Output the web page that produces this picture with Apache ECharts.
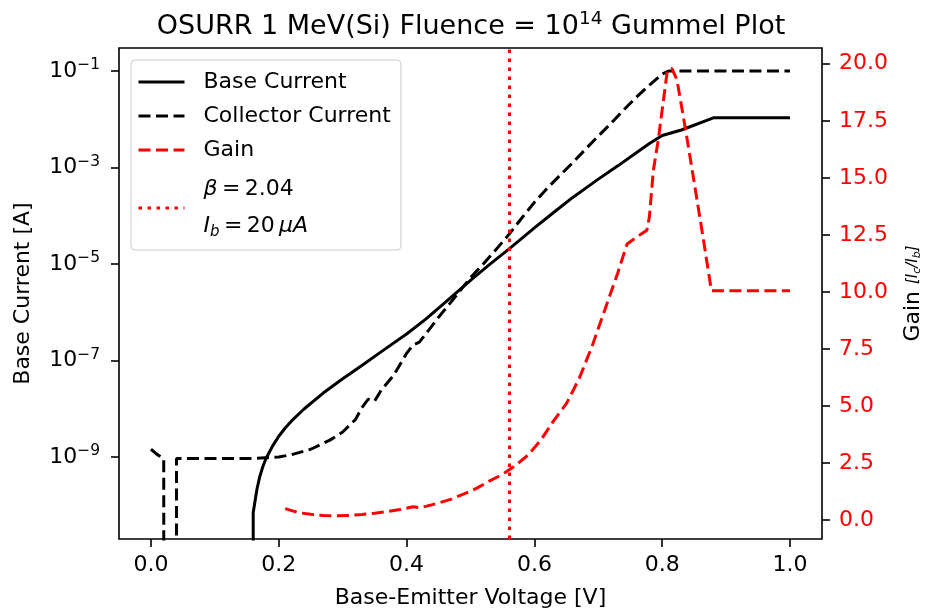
<!DOCTYPE html>
<html><head><meta charset="utf-8">
<script src="https://cdn.jsdelivr.net/npm/echarts@6/dist/echarts.min.js"></script>
<style>html,body{margin:0;padding:0;background:#fff}#c{width:942px;height:615px}</style>
</head><body><div id="c"></div>
<script>
// ---------- data ----------
// Base current [A]; 0 = measured value not positive (clipped like matplotlib)
const vbeBase = [0, 0.15, 0.16, 0.163, 0.166, 0.17, 0.175, 0.18, 0.19, 0.20, 0.21, 0.22, 0.24, 0.27, 0.30, 0.33, 0.36, 0.40, 0.43, 0.46, 0.50, 0.53, 0.56, 0.60, 0.63, 0.66, 0.70, 0.73, 0.76, 0.78, 0.80, 0.83, 0.88, 0.90, 0.95, 1.0];
const baseCurrent = [0, 0, 7.1e-11, 1.26e-10, 2.2e-10, 3.8e-10, 6.3e-10, 9.3e-10, 1.66e-9, 2.7e-9, 4.0e-9, 5.6e-9, 1.0e-8, 2.14e-8, 4.2e-8, 7.9e-8, 1.51e-7, 3.55e-7, 7.2e-7, 1.58e-6, 4.6e-6, 9.8e-6, 2.04e-5, 5.6e-5, 1.17e-4, 2.4e-4, 5.75e-4, 1.07e-3, 2.04e-3, 3.16e-3, 4.6e-3, 6.0e-3, 1.07e-2, 1.07e-2, 1.07e-2, 1.07e-2];

// Collector current [A]
const vbeCollector = [0, 0.01, 0.02, 0.03, 0.04, 0.10, 0.16, 0.20, 0.22, 0.25, 0.28, 0.30, 0.32, 0.33, 0.34, 0.35, 0.36, 0.38, 0.40, 0.41, 0.42, 0.43, 0.45, 0.47, 0.50, 0.52, 0.54, 0.56, 0.58, 0.60, 0.62, 0.64, 0.66, 0.68, 0.70, 0.72, 0.74, 0.76, 0.78, 0.80, 0.81, 0.85, 0.90, 0.95, 1.0];
const collectorCurrent = [1.45e-9, 1.12e-9, 9.3e-10, 0, 9.3e-10, 9.3e-10, 9.3e-10, 1.0e-9, 1.12e-9, 1.45e-9, 2.24e-9, 3.3e-9, 6.0e-9, 1.05e-8, 1.58e-8, 1.45e-8, 2.4e-8, 5.0e-8, 1.41e-7, 2.1e-7, 2.4e-7, 3.55e-7, 7.9e-7, 1.66e-6, 5.2e-6, 1.0e-5, 2.0e-5, 4.08e-5, 8.9e-5, 1.9e-4, 3.7e-4, 6.9e-4, 1.26e-3, 2.4e-3, 4.5e-3, 8.3e-3, 1.58e-2, 2.9e-2, 5.1e-2, 8.7e-2, 0.1, 0.1, 0.1, 0.1, 0.1];

// Gain Ic/Ib
const vbeGain = [0.21, 0.23, 0.25, 0.27, 0.29, 0.31, 0.33, 0.35, 0.37, 0.39, 0.41, 0.42, 0.43, 0.45, 0.47, 0.49, 0.51, 0.53, 0.55, 0.57, 0.59, 0.61, 0.63, 0.65, 0.67, 0.69, 0.71, 0.73, 0.745, 0.76, 0.776, 0.78, 0.786, 0.794, 0.80, 0.808, 0.815, 0.823, 0.836, 0.85, 0.865, 0.877, 0.90, 0.95, 1.0];
const gain = [0.50, 0.33, 0.25, 0.20, 0.19, 0.20, 0.24, 0.30, 0.37, 0.46, 0.58, 0.55, 0.60, 0.75, 0.92, 1.15, 1.40, 1.72, 2.0, 2.38, 2.85, 3.5, 4.35, 5.1, 6.2, 7.6, 9.2, 10.8, 12.1, 12.4, 12.7, 13.3, 15.3, 16.7, 18.0, 19.7, 19.8, 19.3, 17.2, 14.8, 12.2, 10.05, 10.05, 10.05, 10.05];

// Operating point marker
const betaVbe = 0.56;
const betaLabel = 'β = 2.04, Ib = 20 μA';

// Tick labels
const xTicks = [0, 0.2, 0.4, 0.6, 0.8, 1.0];
const currentTicks = [1e-9, 1e-7, 1e-5, 1e-3, 1e-1];
const gainTicks = [0, 2.5, 5, 7.5, 10, 12.5, 15, 17.5, 20];

// ---------- chart ----------
const FONT = 'DejaVu Sans';
const clipPos = v => (v > 0 ? v : 1e-300); // matplotlib-style clipping of non-positive values on log axis
const pairs = (xs, ys, f) => xs.map((x, i) => [x, f ? f(ys[i]) : ys[i]]);
const DASH = [12, 5.5];
const DOT = [3.5, 5.5];

function pow10Label(v) {
  const e = Math.round(Math.log10(v));
  return '{b|10}{s|' + (e < 0 ? '\u2212' : '') + Math.abs(e) + '}';
}

const chart = echarts.init(document.getElementById('c'), null, { renderer: 'canvas' });
chart.setOption({
  animation: false,
  backgroundColor: '#fff',
  title: {
    text: '{t|OSURR 1 MeV(Si) Fluence = 10}{ts|14}{t| Gummel Plot}',
    left: 'center', top: 2,
    textStyle: {
      fontWeight: 'normal',
      rich: {
        t: { fontFamily: FONT, fontSize: 27, lineHeight: 40, color: '#000', fontWeight: 'normal' },
        ts: { fontFamily: FONT, fontSize: 18.5, lineHeight: 24, color: '#000', fontWeight: 'normal', verticalAlign: 'top', padding: [3, 0, 0, 0] }
      }
    }
  },
  grid: { left: 119, right: 120, top: 48, bottom: 76, show: true, borderColor: '#000', borderWidth: 1.6, backgroundColor: 'transparent' },
  legend: {
    orient: 'vertical', left: 131, top: 60,
    data: ['Base Current', 'Collector Current', 'Gain', betaLabel],
    itemWidth: 46, itemHeight: 14, itemGap: 8,
    padding: [9, 10, 5, 6],
    backgroundColor: 'rgba(255,255,255,0.8)', borderColor: '#cccccc', borderWidth: 1, borderRadius: 4,
    lineStyle: { width: 3 },
    itemStyle: { opacity: 0, borderWidth: 0 },
    formatter: name => name === betaLabel
      ? '{i|β}{n|\u2009=\u20092.04}\n{i|I}{sub|b}{n|\u2009=\u200920\u2009}{i|μA}'
      : name,
    textStyle: {
      fontFamily: FONT, fontSize: 22, lineHeight: 26, color: '#000', padding: [0, 0, 0, 14],
      rich: {
        i: { fontFamily: FONT, fontSize: 22, fontStyle: 'italic', lineHeight: 37, color: '#000' },
        n: { fontFamily: FONT, fontSize: 22, lineHeight: 37, color: '#000' },
        sub: { fontFamily: FONT, fontSize: 15, fontStyle: 'italic', lineHeight: 37, color: '#000', padding: [12, 0, 0, 0] }
      }
    }
  },
  xAxis: {
    type: 'value', min: -0.05, max: 1.05,
    name: 'Base-Emitter Voltage [V]', nameLocation: 'middle', nameGap: 48,
    nameTextStyle: { fontFamily: FONT, fontSize: 22, color: '#000' },
    axisLine: { show: false, onZero: false },
    splitLine: { show: false },
    axisTick: { show: true, length: 8, lineStyle: { color: '#000', width: 1.6 }, customValues: xTicks },
    axisLabel: { customValues: xTicks, margin: 15, fontFamily: FONT, fontSize: 22, color: '#000', formatter: v => v.toFixed(1) }
  },
  yAxis: [
    {
      type: 'log', logBase: 10, min: 2.0e-11, max: 0.30, position: 'left',
      name: 'Base Current [A]', nameLocation: 'middle', nameGap: 85, nameRotate: 90,
      nameTextStyle: { fontFamily: FONT, fontSize: 22, color: '#000' },
      axisLine: { show: false, onZero: false },
      splitLine: { show: false },
      minorTick: { show: false },
      axisTick: { show: true, length: 8, lineStyle: { color: '#000', width: 1.6 }, customValues: currentTicks },
      axisLabel: {
        customValues: currentTicks, margin: 19, formatter: pow10Label,
        rich: {
          b: { fontFamily: FONT, fontSize: 22, lineHeight: 28, color: '#000' },
          s: { fontFamily: FONT, fontSize: 15.5, color: '#000', verticalAlign: 'top' }
        }
      }
    },
    {
      type: 'value', min: -0.83, max: 20.69, position: 'right',
      name: '{g|Gain }{f|[I}{fs|c}{f|/I}{fs|b}{f|]}', nameLocation: 'middle', nameGap: 80, nameRotate: 90,
      nameTextStyle: {
        fontFamily: FONT, fontSize: 22, color: '#000',
        rich: {
          g: { fontFamily: FONT, fontSize: 22, color: '#000' },
          f: { fontFamily: FONT, fontSize: 15, color: '#000', fontStyle: 'italic' },
          fs: { fontFamily: FONT, fontSize: 11, color: '#000', fontStyle: 'italic', padding: [8, 0, 0, 0] }
        }
      },
      axisLine: { show: false, onZero: false },
      splitLine: { show: false },
      axisTick: { show: true, length: 8, lineStyle: { color: '#000', width: 1.6 }, customValues: gainTicks },
      axisLabel: { customValues: gainTicks, margin: 17, fontFamily: FONT, fontSize: 22, color: '#ff0000', formatter: v => v.toFixed(1) }
    }
  ],
  series: [
    {
      name: 'Base Current', type: 'line', data: pairs(vbeBase, baseCurrent, clipPos),
      symbol: 'none', showSymbol: false, clip: true, z: 3,
      lineStyle: { color: '#000', width: 3 }, itemStyle: { color: '#000' }
    },
    {
      name: 'Collector Current', type: 'line', data: pairs(vbeCollector, collectorCurrent, clipPos),
      symbol: 'none', showSymbol: false, clip: true, z: 3,
      lineStyle: { color: '#000', width: 3, type: DASH }, itemStyle: { color: '#000' }
    },
    {
      name: 'Gain', type: 'line', yAxisIndex: 1, data: pairs(vbeGain, gain),
      symbol: 'none', showSymbol: false, clip: true, z: 3,
      lineStyle: { color: '#ff0000', width: 3, type: DASH }, itemStyle: { color: '#ff0000' }
    },
    {
      name: betaLabel, type: 'line', data: [],
      symbol: 'none', showSymbol: false, z: 2,
      lineStyle: { color: '#ff0000', width: 3, type: DOT }, itemStyle: { color: '#ff0000' },
      markLine: {
        symbol: ['none', 'none'], silent: true, animation: false,
        label: { show: false },
        lineStyle: { color: '#ff0000', width: 3, type: DOT },
        data: [{ xAxis: betaVbe }]
      }
    }
  ]
});
</script>
</body></html>
